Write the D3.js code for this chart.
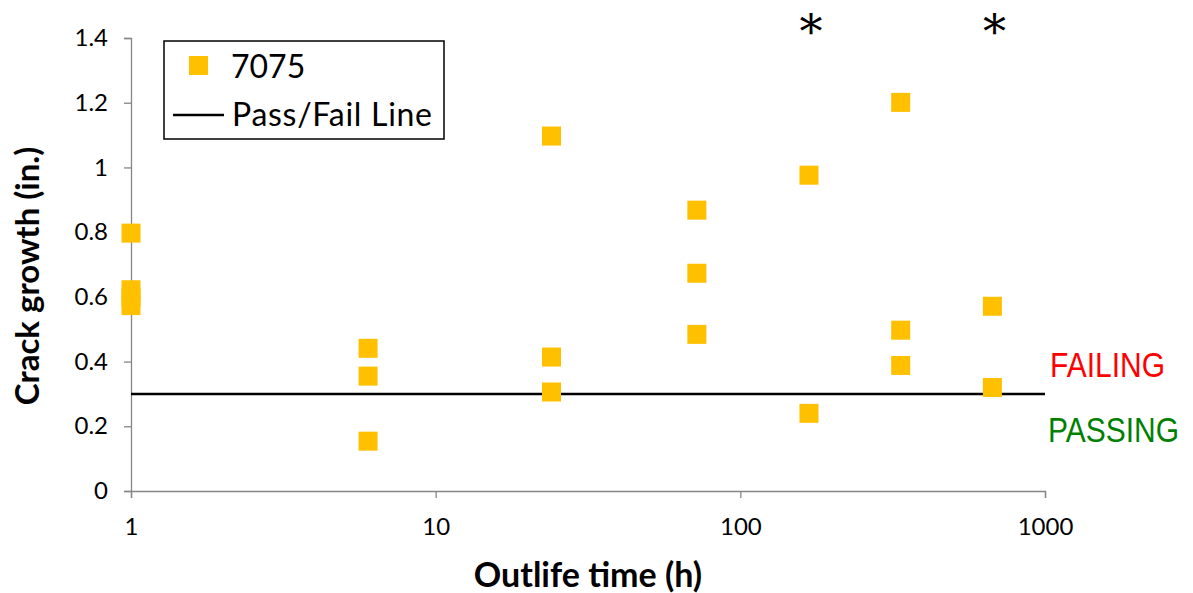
<!DOCTYPE html>
<html>
<head>
<meta charset="utf-8">
<script src="https://cdn.jsdelivr.net/npm/d3@7"></script>
<style>
  body { margin: 0; background: #fff; }
  svg { display: block; font-family: Lato, "Open Sans", sans-serif; }
</style>
</head>
<body>
<div id="chart"></div>
<script>
// outlife time (h) and crack growth (in.) for the 7075 specimens
const hours  = [1, 1, 1, 1, 6, 6, 6, 24, 24, 24, 72, 72, 72, 168, 168, 336, 336, 336, 672, 672];
const growth = [0.797, 0.622, 0.598, 0.573, 0.441, 0.355, 0.154, 1.097, 0.414, 0.306,
                0.868, 0.673, 0.484, 0.976, 0.240, 1.201, 0.497, 0.388, 0.571, 0.320];
const passFail = 0.3;
const starHours = [168, 672];
const yTicks = [0, 0.2, 0.4, 0.6, 0.8, 1, 1.2, 1.4];
const xTicks = [1, 10, 100, 1000];

const W = 1193, H = 593;
const margin = { top: 38, right: 148, bottom: 102, left: 131 };

const svg = d3.select("#chart").append("svg")
  .attr("width", W)
  .attr("height", H);

const x = d3.scaleLog()
  .domain([1, 1000])
  .range([margin.left, W - margin.right]);

const y = d3.scaleLinear()
  .domain([0, 1.4])
  .range([H - margin.bottom, margin.top]);

const axisColor = "#868686";

// y axis
const yAxis = svg.append("g")
  .attr("transform", "translate(" + margin.left + ",0)")
  .call(d3.axisLeft(y).tickValues(yTicks).tickSize(7).tickPadding(16).tickFormat(d => d));
yAxis.selectAll("path, line").attr("stroke", axisColor).attr("stroke-width", 1.3);
yAxis.selectAll("text").attr("font-size", 24).attr("fill", "#000").attr("font-family", "Lato");

// x axis
const xAxis = svg.append("g")
  .attr("transform", "translate(0," + y(0) + ")")
  .call(d3.axisBottom(x).tickValues(xTicks).tickSize(7).tickPadding(20).tickFormat(d3.format("d")));
xAxis.selectAll("path, line").attr("stroke", axisColor).attr("stroke-width", 1.3);
xAxis.selectAll("text").attr("font-size", 24).attr("fill", "#000").attr("font-family", "Lato");

// pass / fail line
svg.append("line")
  .attr("x1", x(1)).attr("x2", x(1000))
  .attr("y1", y(passFail)).attr("y2", y(passFail))
  .attr("stroke", "#000")
  .attr("stroke-width", 2.6);

// data squares
const sq = 19;
svg.selectAll("rect.pt")
  .data(hours.map((h, i) => [h, growth[i]]))
  .enter()
  .append("rect")
  .attr("class", "pt")
  .attr("x", d => x(d[0]) - sq / 2)
  .attr("y", d => y(d[1]) - sq / 2)
  .attr("width", sq)
  .attr("height", sq)
  .attr("fill", "#FFC000");

// asterisks
svg.selectAll("text.star")
  .data(starHours)
  .enter()
  .append("text")
  .attr("class", "star")
  .attr("x", d => x(d) + 2)
  .attr("y", 48)
  .attr("text-anchor", "middle")
  .attr("font-family", "DejaVu Serif")
  .attr("font-size", 46)
  .text("*");

// FAILING / PASSING
svg.append("text")
  .attr("x", 1050).attr("y", 377)
  .attr("font-family", "Liberation Sans")
  .attr("font-size", 30)
  .attr("fill", "#FF0000")
  .attr("transform", "translate(0,377) scale(1,1.15) translate(0,-377)")
  .text("FAILING");
svg.append("text")
  .attr("x", 1048).attr("y", 442)
  .attr("font-family", "Liberation Sans")
  .attr("font-size", 30)
  .attr("fill", "#008000")
  .attr("transform", "translate(0,442) scale(1,1.15) translate(0,-442)")
  .text("PASSING");

// axis titles
svg.append("text")
  .attr("transform", "translate(39,276) rotate(-90)")
  .attr("text-anchor", "middle")
  .attr("font-weight", "bold")
  .attr("font-size", 33)
  .text("Crack growth (in.)");

svg.append("text")
  .attr("x", 588).attr("y", 587)
  .attr("text-anchor", "middle")
  .attr("font-weight", "bold")
  .attr("font-size", 34)
  .text("Outlife time (h)");

// legend
const lg = svg.append("g");
lg.append("rect")
  .attr("x", 164).attr("y", 41)
  .attr("width", 280).attr("height", 98)
  .attr("fill", "#fff")
  .attr("stroke", "#000")
  .attr("stroke-width", 1.5);
lg.append("rect")
  .attr("x", 189).attr("y", 56)
  .attr("width", sq).attr("height", sq)
  .attr("fill", "#FFC000");
lg.append("text")
  .attr("x", 231).attr("y", 78)
  .attr("font-size", 32)
  .text("7075");
lg.append("line")
  .attr("x1", 173).attr("x2", 224)
  .attr("y1", 115).attr("y2", 115)
  .attr("stroke", "#000")
  .attr("stroke-width", 2.6);
lg.append("text")
  .attr("x", 232).attr("y", 126)
  .attr("font-size", 32)
  .attr("textLength", 200)
  .text("Pass/Fail Line");
</script>
</body>
</html>
